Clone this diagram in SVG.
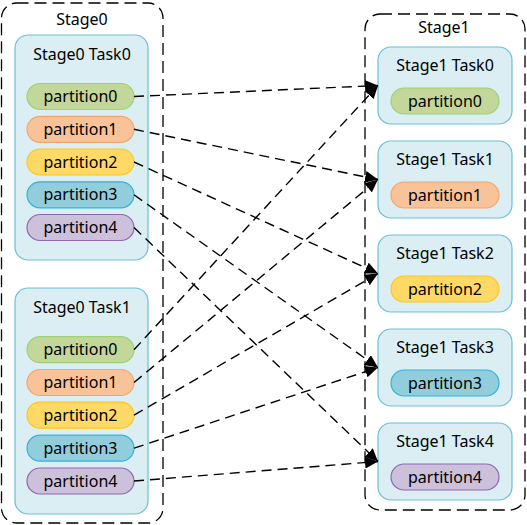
<svg xmlns="http://www.w3.org/2000/svg" width="527" height="525" viewBox="0 0 527 525">
<defs>
<style>
text{font-family:"Noto Sans","Open Sans","DejaVu Sans",sans-serif;font-size:16px;fill:#000;text-anchor:middle}
.stage{fill:none;stroke:#000;stroke-width:1.3;stroke-dasharray:12,6}
.task{fill:#daeef3;stroke:#6cbfd6;stroke-width:1.2}
.p0{fill:#c4d79b;stroke:#9fd174;stroke-width:1.2}
.p1{fill:#f9c39a;stroke:#f5a66c;stroke-width:1.2}
.p2{fill:#ffd966;stroke:#ffc61a;stroke-width:1.2}
.p3{fill:#92cddc;stroke:#33b2e0;stroke-width:1.2}
.p4{fill:#ccc0da;stroke:#8e67b5;stroke-width:1.2}
.c{fill:none;stroke:#000;stroke-width:1.4;stroke-dasharray:10,6;marker-end:url(#ah)}
</style>
<marker id="ah" markerUnits="userSpaceOnUse" markerWidth="14" markerHeight="12" refX="13" refY="6" orient="auto">
<path d="M0,0 L13,6 L0,12 z" fill="#000"/>
</marker>
</defs>
<g id="stage0">
<rect class="stage" x="1.5" y="3" width="161.5" height="520" rx="15"/>
<text x="82" y="25">Stage0</text>
</g>
<g id="stage0-task0">
<rect class="task" x="15" y="35" width="133" height="225" rx="13"/>
<text x="82" y="60">Stage0 Task0</text>
<rect class="p0" x="27" y="83.5" width="107" height="26" rx="13"/><text x="80.5" y="102">partition0</text>
<rect class="p1" x="27" y="116.3" width="107" height="26" rx="13"/><text x="80.5" y="134.8">partition1</text>
<rect class="p2" x="27" y="149" width="107" height="26" rx="13"/><text x="80.5" y="167.5">partition2</text>
<rect class="p3" x="27" y="181.8" width="107" height="26" rx="13"/><text x="80.5" y="200.3">partition3</text>
<rect class="p4" x="27" y="214.5" width="107" height="26" rx="13"/><text x="80.5" y="233">partition4</text>
</g>
<g id="stage0-task1">
<rect class="task" x="15" y="288" width="133" height="226" rx="13"/>
<text x="82" y="313">Stage0 Task1</text>
<rect class="p0" x="27" y="336.7" width="107" height="26" rx="13"/><text x="80.5" y="355.2">partition0</text>
<rect class="p1" x="27" y="369.5" width="107" height="26" rx="13"/><text x="80.5" y="388">partition1</text>
<rect class="p2" x="27" y="402.2" width="107" height="26" rx="13"/><text x="80.5" y="420.7">partition2</text>
<rect class="p3" x="27" y="435.2" width="107" height="26" rx="13"/><text x="80.5" y="453.7">partition3</text>
<rect class="p4" x="27" y="468" width="107" height="26" rx="13"/><text x="80.5" y="486.5">partition4</text>
</g>
<g id="stage1">
<rect class="stage" x="365" y="14" width="160" height="496" rx="15"/>
<text x="444" y="33">Stage1</text>
</g>
<g id="stage1-task0">
<rect class="task" x="378" y="47" width="134" height="77" rx="13"/>
<text x="445" y="71">Stage1 Task0</text>
<rect class="p0" x="391" y="88" width="108" height="26" rx="13"/><text x="445" y="107">partition0</text>
</g>
<g id="stage1-task1">
<rect class="task" x="378" y="141" width="134" height="77" rx="13"/>
<text x="445" y="165">Stage1 Task1</text>
<rect class="p1" x="391" y="182" width="108" height="26" rx="13"/><text x="445" y="201">partition1</text>
</g>
<g id="stage1-task2">
<rect class="task" x="378" y="235" width="134" height="77" rx="13"/>
<text x="445" y="259">Stage1 Task2</text>
<rect class="p2" x="391" y="276" width="108" height="26" rx="13"/><text x="445" y="295">partition2</text>
</g>
<g id="stage1-task3">
<rect class="task" x="378" y="329" width="134" height="77" rx="13"/>
<text x="445" y="353">Stage1 Task3</text>
<rect class="p3" x="391" y="370" width="108" height="26" rx="13"/><text x="445" y="389">partition3</text>
</g>
<g id="stage1-task4">
<rect class="task" x="378" y="423" width="134" height="77" rx="13"/>
<text x="445" y="447">Stage1 Task4</text>
<rect class="p4" x="391" y="464" width="108" height="26" rx="13"/><text x="445" y="483">partition4</text>
</g>
<g id="connectors">
<line class="c" x1="134" y1="96.5" x2="378" y2="85.5"/>
<line class="c" x1="134" y1="129.3" x2="378" y2="179.5"/>
<line class="c" x1="134" y1="162" x2="378" y2="273.5"/>
<line class="c" x1="134" y1="194.8" x2="378" y2="367.5"/>
<line class="c" x1="134" y1="227.5" x2="378" y2="461.5"/>
<line class="c" x1="134" y1="349.7" x2="378" y2="85.5"/>
<line class="c" x1="134" y1="382.5" x2="378" y2="179.5"/>
<line class="c" x1="134" y1="415.2" x2="378" y2="273.5"/>
<line class="c" x1="134" y1="448.2" x2="378" y2="367.5"/>
<line class="c" x1="134" y1="481" x2="378" y2="461.5"/>
</g>
</svg>
